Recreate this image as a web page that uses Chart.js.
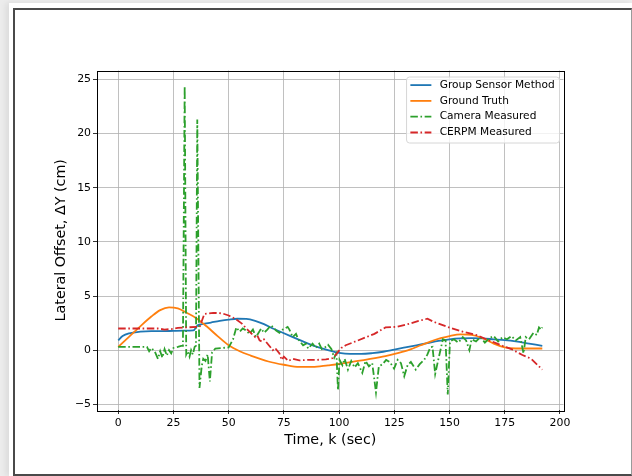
<!DOCTYPE html>
<html>
<head>
<meta charset="utf-8">
<script src="https://cdn.jsdelivr.net/npm/chart.js@4.4.1/dist/chart.umd.min.js"></script>
<style>
    html, body { margin: 0; padding: 0; background: #ececec; }
    .card { position: absolute; left: 9px; top: 3px; width: 623px; height: 473px; background: #fff; box-shadow: -3px 0 6px rgba(0, 0, 0, 0.08); }
    .frame { position: absolute; left: 13px; top: 8px; width: 619px; height: 468px; box-sizing: border-box; border: 2px solid #4a4a4a; border-right: 1px solid #9a9a9a; }
    #chart { position: absolute; left: 0; top: 0; }
</style>
</head>
<body>
<div class="card"></div>
<div class="frame"></div>
<canvas id="chart" width="632" height="476"></canvas>
<script>
const xTicks = [0, 25, 50, 75, 100, 125, 150, 175, 200];
const yTicks = [-5, 0, 5, 10, 15, 20, 25];

const groupK = [0, 2, 5, 10, 15, 20, 25, 30, 34, 36, 38, 42, 46, 50, 54, 58, 62, 66, 70, 74, 78, 82, 86, 90, 95, 100, 105, 110, 115, 120, 125, 130, 135, 140, 145, 150, 155, 160, 165, 170, 175, 180, 186, 192];
const groupY = [0.9, 1.3, 1.55, 1.7, 1.75, 1.75, 1.78, 1.8, 1.82, 2.3, 2.4, 2.55, 2.7, 2.82, 2.9, 2.88, 2.7, 2.4, 2.0, 1.65, 1.3, 0.95, 0.6, 0.3, 0.0, -0.25, -0.35, -0.35, -0.28, -0.15, 0.05, 0.25, 0.45, 0.65, 0.85, 1.0, 1.08, 1.1, 1.08, 1.0, 0.92, 0.8, 0.6, 0.4];

const truthK = [0, 5, 10, 15, 19, 23, 27, 31, 35, 40, 45, 50, 55, 60, 68, 75, 82, 88, 95, 100, 106, 113, 121, 127, 132, 137, 141, 146, 150, 155, 160, 165, 170, 175, 180, 186, 192];
const truthY = [0.3, 1.25, 2.2, 3.1, 3.7, 3.95, 3.85, 3.45, 3.0, 2.2, 1.3, 0.45, -0.1, -0.5, -1.05, -1.35, -1.55, -1.55, -1.4, -1.28, -1.08, -0.85, -0.55, -0.25, 0.05, 0.45, 0.77, 1.1, 1.3, 1.45, 1.4, 1.1, 0.6, 0.25, 0.15, 0.15, 0.15];

const cameraK = [0, 13, 14, 15, 16.5, 18, 19, 20, 21, 22, 23, 24, 25, 27, 28.5, 29.3, 30.1, 30.8, 31.5, 32.3, 33, 33.8, 34.6, 35.2, 35.8, 36.8, 37.8, 38.5, 39.5, 40.5, 41.5, 42.5, 44, 47, 50, 52, 53.5, 55, 56.4, 58, 59.4, 61, 62.4, 64.7, 66, 67.5, 69.2, 71.5, 73, 74.5, 76.7, 77.5, 79, 80.5, 81.5, 83.7, 85, 86, 88, 89.5, 91, 92.2, 93.3, 95, 96.5, 97.8, 98.8, 99.5, 100.2, 101.5, 102.5, 104, 105.5, 107, 108.5, 110.5, 112, 113.5, 115, 116.7, 118, 119.7, 121.3, 123, 124.9, 126.5, 128, 129.5, 131, 132.5, 134.7, 136.5, 138.5, 140, 141.3, 142.3, 143.5, 145, 147, 148.2, 149.2, 150.2, 152, 154, 156, 157.5, 159, 160, 162, 164, 166, 168, 170, 172, 174, 176, 178, 180, 182, 183.5, 184.5, 186, 188, 189.5, 190.5, 191.5, 192];
const cameraY = [0.3, 0.3, -0.1, 0.2, -0.1, -0.8, -0.1, -0.7, 0.1, -0.5, 0.0, -0.3, 0.2, 0.3, 0.4, 0.4, 24.4, -0.4, -0.1, -0.6, 0.0, -0.4, 0.3, 0.4, 21.3, -3.5, -1.5, -0.8, -1.0, -0.4, -2.9, -0.2, 0.15, 0.2, 0.25, 1.0, 2.1, 1.7, 2.0, 1.8, 1.5, 1.9, 1.2, 2.0, 1.6, 1.9, 2.3, 1.8, 1.6, 1.9, 2.15, 1.9, 1.2, 1.5, 1.0, 0.45, 0.6, 0.15, 0.6, 0.2, 0.6, 0.1, 0.2, 0.5, 0.1, -0.7, -0.3, -3.7, -0.9, -1.4, -0.8, -1.8, -1.0, -1.6, -1.2, -2.1, -1.0, -1.5, -1.2, -3.9, -1.5, -1.3, -0.9, -1.1, -1.7, -0.9, -1.2, -2.4, -1.4, -1.1, -1.8, -1.3, -0.9, -0.4, 0.25, 0.3, -2.2, -0.8, 1.0, 0.9, -4.1, 0.8, 1.0, 0.7, 1.2, 0.9, 0.0, 1.0, 0.8, 1.2, 0.7, 1.1, 1.3, 0.8, 1.2, 1.0, 1.3, 0.9, 1.2, -0.3, 1.2, 1.0, 1.6, 1.4, 2.1, 1.9, 2.1];

const cerpmK = [0, 10, 18, 21, 24, 27, 31, 36, 37, 39, 43, 47, 50, 53, 56, 58, 60, 62, 63, 64, 65, 66, 68, 70, 71, 73, 74, 75, 77, 79, 82, 86, 90, 94, 97, 99, 101, 103, 108, 116, 121, 126, 132, 136, 140, 143, 149, 156, 162, 168, 174, 178, 183, 187, 192];
const cerpmY = [2.0, 2.0, 2.0, 1.9, 1.95, 2.05, 2.1, 2.15, 2.2, 3.35, 3.45, 3.4, 3.2, 2.9, 2.45, 2.0, 1.6, 1.2, 1.35, 0.9, 0.8, 1.0, 0.5, 0.0, 0.2, -0.3, -0.9, -0.6, -1.0, -0.8, -0.95, -0.9, -0.9, -0.85, -0.75, -0.3, 0.2, 0.45, 0.85, 1.5, 2.1, 2.15, 2.45, 2.7, 2.9, 2.6, 2.15, 1.7, 1.4, 0.9, 0.4, 0.1, -0.45, -0.8, -1.8];

const fontFamily = '"DejaVu Sans", sans-serif';
const dashDot = [7.5, 2.6, 1.6, 2.6];

function toPoints(ks, vs) {
    return ks.map((k, i) => ({ x: k, y: vs[i] }));
}

// matplotlib style legend drawn inside the plot, upper right
const mplLegend = {
    id: 'mplLegend',
    afterDraw: function (chart) {
        const { ctx, chartArea } = chart;
        const fs = 10.6;
        ctx.save();
        ctx.font = fs + 'px ' + fontFamily;
        const labels = chart.data.datasets.map(d => d.label);
        const textW = Math.max(...labels.map(t => ctx.measureText(t).width));
        const pad = 4.3, handle = 21, gap = 8.3, rowH = 15.8;
        const w = pad + handle + gap + textW + pad;
        const h = 66;
        const right = chartArea.right - 4.5;
        const left = right - w;
        const top = chartArea.top + 6;
        ctx.beginPath();
        ctx.roundRect(left + 0.5, top + 0.5, w, h, 3);
        ctx.fillStyle = 'rgba(255,255,255,0.8)';
        ctx.fill();
        ctx.strokeStyle = '#d6d6d6';
        ctx.lineWidth = 1;
        ctx.stroke();
        chart.data.datasets.forEach((ds, i) => {
            const y = top + 8.6 + i * rowH;
            ctx.beginPath();
            ctx.setLineDash(ds.borderDash || []);
            ctx.strokeStyle = ds.borderColor;
            ctx.lineWidth = ds.borderWidth;
            ctx.moveTo(left + pad, y);
            ctx.lineTo(left + pad + handle, y);
            ctx.stroke();
            ctx.setLineDash([]);
            ctx.fillStyle = '#000';
            ctx.textBaseline = 'middle';
            ctx.fillText(ds.label, left + pad + handle + gap, y);
        });
        ctx.restore();
    }
};

// axes frame (all four spines)
const frameBox = {
    id: 'frameBox',
    afterDatasetsDraw: function (chart) {
        const { ctx, chartArea } = chart;
        ctx.save();
        ctx.strokeStyle = '#000';
        ctx.lineWidth = 1;
        ctx.strokeRect(Math.round(chartArea.left) + 0.5, Math.round(chartArea.top) + 0.5,
            Math.round(chartArea.right - chartArea.left), Math.round(chartArea.bottom - chartArea.top));
        ctx.restore();
    }
};

const tickFont = { family: fontFamily, size: 10.9 };
const titleFont = { family: fontFamily, size: 14.3 };
const minusSign = v => String(v).replace('-', '\u2212');

new Chart(document.getElementById('chart'), {
    type: 'line',
    data: {
        datasets: [
            {
                label: 'Group Sensor Method',
                data: toPoints(groupK, groupY),
                borderColor: '#1f77b4',
                borderWidth: 1.8,
                cubicInterpolationMode: 'monotone',
                order: 4
            },
            {
                label: 'Ground Truth',
                data: toPoints(truthK, truthY),
                borderColor: '#ff7f0e',
                borderWidth: 1.8,
                cubicInterpolationMode: 'monotone',
                order: 3
            },
            {
                label: 'Camera Measured',
                data: toPoints(cameraK, cameraY),
                borderColor: '#2ca02c',
                borderWidth: 1.8,
                borderDash: dashDot,
                tension: 0,
                order: 2
            },
            {
                label: 'CERPM Measured',
                data: toPoints(cerpmK, cerpmY),
                borderColor: '#d62728',
                borderWidth: 1.8,
                borderDash: dashDot,
                tension: 0,
                order: 1
            }
        ]
    },
    options: {
        responsive: false,
        animation: false,
        layout: { padding: { left: 53, right: 68.5, top: 70.5, bottom: 27 } },
        elements: { point: { radius: 0 } },
        plugins: {
            legend: { display: false },
            tooltip: { enabled: false }
        },
        scales: {
            x: {
                type: 'linear',
                min: -9.6,
                max: 201.6,
                afterBuildTicks: s => { s.ticks = xTicks.map(v => ({ value: v })); },
                afterFit: s => { s.height = 39; },
                grid: { color: '#b0b0b0', lineWidth: 0.8, tickLength: 4, tickColor: '#000' },
                border: { display: false },
                ticks: { color: '#000', font: tickFont, padding: 3, maxRotation: 0, autoSkip: false, callback: minusSign },
                title: { display: true, text: 'Time, k (sec)', color: '#000', font: titleFont, padding: 0 }
            },
            y: {
                min: -5.53,
                max: 25.83,
                afterBuildTicks: s => { s.ticks = yTicks.map(v => ({ value: v })); },
                afterFit: s => { s.width = 44; },
                grid: { color: '#b0b0b0', lineWidth: 0.8, tickLength: 4, tickColor: '#000' },
                border: { display: false },
                ticks: { color: '#000', font: tickFont, padding: 2, autoSkip: false, callback: minusSign },
                title: { display: true, text: 'Lateral Offset, \u0394Y (cm)', color: '#000', font: titleFont, padding: 0 }
            }
        }
    },
    plugins: [frameBox, mplLegend]
});
</script>
</body>
</html>
